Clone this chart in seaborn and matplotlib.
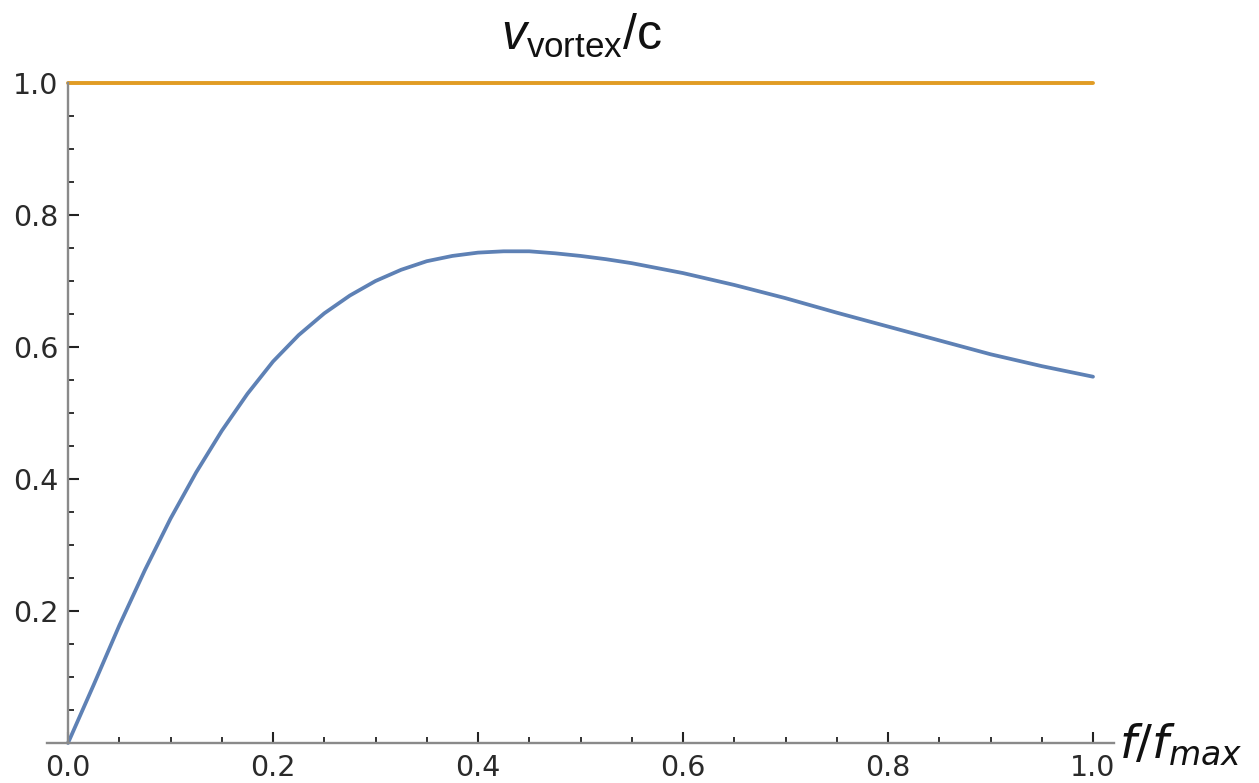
import numpy as np
import pandas as pd
import matplotlib
matplotlib.use("Agg")
import matplotlib.pyplot as plt
import seaborn as sns
from matplotlib.ticker import FixedLocator

# data
f_ratio = [0.0, 0.025, 0.05, 0.075, 0.1, 0.125, 0.15, 0.175, 0.2, 0.225, 0.25,
           0.275, 0.3, 0.325, 0.35, 0.375, 0.4, 0.425, 0.45, 0.475, 0.5, 0.525,
           0.55, 0.6, 0.65, 0.7, 0.75, 0.8, 0.85, 0.9, 0.95, 1.0]
v_vortex = [0.0, 0.088, 0.178, 0.262, 0.340, 0.410, 0.473, 0.529, 0.578, 0.618, 0.651,
            0.678, 0.700, 0.717, 0.730, 0.738, 0.743, 0.745, 0.745, 0.742, 0.738, 0.733,
            0.727, 0.712, 0.694, 0.674, 0.652, 0.631, 0.610, 0.589, 0.571, 0.555]
c_line_x = [0.0, 1.0]
c_line_y = [1.0, 1.0]
x_ticks = [0.0, 0.2, 0.4, 0.6, 0.8, 1.0]
y_ticks = [0.2, 0.4, 0.6, 0.8, 1.0]

sns.set_style("ticks")
plt.rcParams['font.family'] = ['DejaVu Sans']
plt.rcParams['mathtext.fontset'] = 'custom'
plt.rcParams['mathtext.rm'] = 'Liberation Sans'
plt.rcParams['mathtext.it'] = 'Liberation Sans:italic'

fig = plt.figure(figsize=(12.59, 7.83), dpi=100)
ax = fig.add_axes([46.5 / 1259, 40 / 783, 1067 / 1259, 660 / 783])

df_curve = pd.DataFrame({"x": f_ratio, "y": v_vortex})
df_c = pd.DataFrame({"x": c_line_x, "y": c_line_y})

sns.lineplot(data=df_curve, x="x", y="y", ax=ax, color="#5E81B5", linewidth=2.7,
             clip_on=False, solid_joinstyle="round", solid_capstyle="round")
sns.lineplot(data=df_c, x="x", y="y", ax=ax, color="#E19C24", linewidth=2.8,
             clip_on=False)

ax.set_xlim(-0.021, 1.02)
ax.set_ylim(0, 1.0)

for s in ["top", "right"]:
    ax.spines[s].set_visible(False)
ax.spines["left"].set_position(("data", 0))
ax.spines["left"].set_bounds(0, 1.0)
for s in ["left", "bottom"]:
    ax.spines[s].set_color("#8a8a8a")
    ax.spines[s].set_linewidth(1.7)

ax.xaxis.set_major_locator(FixedLocator(x_ticks))
ax.yaxis.set_major_locator(FixedLocator(y_ticks))
ax.set_xticklabels([f"{t:.1f}" for t in x_ticks])
ax.set_yticklabels([f"{t:.1f}" for t in y_ticks])
ax.xaxis.set_minor_locator(FixedLocator([i * 0.05 for i in range(1, 21) if i % 4]))
ax.yaxis.set_minor_locator(FixedLocator([i * 0.05 for i in range(1, 20) if i % 4]))

ax.tick_params(axis="both", which="major", direction="in", length=8, width=1.5,
               color="#222222", labelsize=20.5, labelcolor="#2a2a2a")
ax.tick_params(axis="both", which="minor", direction="in", length=4.5, width=1.3,
               color="#222222")
ax.tick_params(axis="x", which="major", pad=8)
ax.tick_params(axis="y", which="major", pad=7)

ax.set_xlabel("")
ax.set_ylabel("")

fig.text(1119 / 1259, 1 - 745 / 783, r"$f/f_{max}$", fontsize=34, color="#111111",
         ha="left", va="center", family="DejaVu Sans",
         math_fontfamily="dejavusans")
fig.text(582 / 1259, 1 - 50 / 783, r"$v_{\mathrm{vortex}}/\mathrm{c}$", fontsize=36,
         color="#111111", ha="center", va="baseline")

fig.savefig("out.png", dpi=100, facecolor="white")
